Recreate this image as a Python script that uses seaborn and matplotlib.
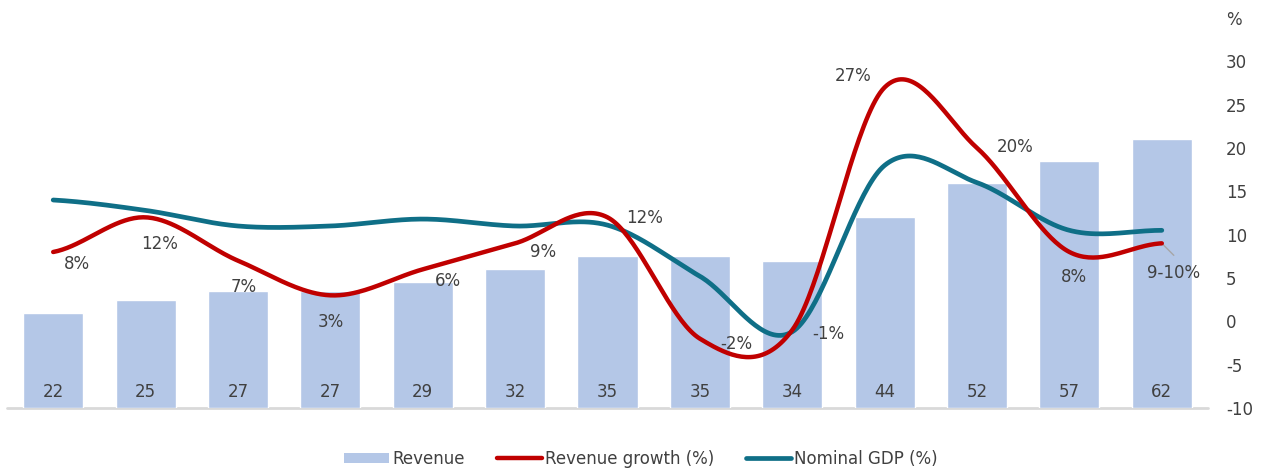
import numpy as np
import matplotlib
matplotlib.use("Agg")
import matplotlib.pyplot as plt
from matplotlib.patches import Patch
from matplotlib.lines import Line2D
import seaborn as sns

# ---- data ----
periods = ["1", "2", "3", "4", "5", "6", "7", "8", "9", "10", "11", "12", "13"]
revenue = [22, 25, 27, 27, 29, 32, 35, 35, 34, 44, 52, 57, 62]
revenue_growth = [8, 12, 7, 3, 6, 9, 12, -2, -1, 27, 20, 8, 9]
growth_labels = ["8%", "12%", "7%", "3%", "6%", "9%", "12%", "-2%", "-1%",
                 "27%", "20%", "8%", "9-10%"]
nominal_gdp = [14, 12.8, 11, 11, 11.8, 11, 11.1, 5.2, -1.2, 18, 16, 10.5, 10.5]
pct_ticks = [-10, -5, 0, 5, 10, 15, 20, 25, 30, 35]
pct_tick_labels = ["-10", "-5", "0", "5", "10", "15", "20", "25", "30", "%"]

# ---- style ----
sns.set_theme(style="white")
plt.rcParams["font.family"] = ["DejaVu Sans"]
TEXT = "#404040"
BAR = "#B4C7E7"
RED = "#C00000"
TEAL = "#0F6F87"
FS = 12


def smooth(values, n=40):
    """Catmull-Rom curve through the given points (x = point index)."""
    p = np.asarray(values, dtype=float)
    ext = np.concatenate([[p[0]], p, [p[-1]]])
    xs, ys = [], []
    for i in range(len(p) - 1):
        p0, p1, p2, p3 = ext[i], ext[i + 1], ext[i + 2], ext[i + 3]
        m1 = (p2 - p0) / 2.0
        m2 = (p3 - p1) / 2.0
        t = np.linspace(0, 1, n, endpoint=(i == len(p) - 2))
        h00 = 2 * t**3 - 3 * t**2 + 1
        h10 = t**3 - 2 * t**2 + t
        h01 = -2 * t**3 + 3 * t**2
        h11 = t**3 - t**2
        xs.append(i + t)
        ys.append(h00 * p1 + h10 * m1 + h01 * p2 + h11 * m2)
    return np.concatenate(xs), np.concatenate(ys)


W, H = 1269, 468
fig = plt.figure(figsize=(W / 100, H / 100), dpi=100)
ax = fig.add_axes([7 / W, (H - 408) / H, (1208 - 7) / W, (408 - 18) / H])

# revenue bars on the (hidden) left scale
sns.barplot(x=periods, y=revenue, color=BAR, width=0.65, saturation=1,
            ax=ax, zorder=2)
ax.set_ylim(0, 90)
ax.set_xlim(-0.5, len(periods) - 0.5)
ax.set_xlabel("")
ax.set_ylabel("")
ax.set_xticks([])
ax.set_yticks([])
for s in ax.spines.values():
    s.set_visible(False)
ax.axhline(0, color="#D9D9D9", lw=2, zorder=1, clip_on=False)

for i, v in enumerate(revenue):
    ax.text(i, 3.6, f"{v}", ha="center", va="center", fontsize=FS,
            color=TEXT, zorder=3)

# percentage lines on the right scale
ax2 = ax.twinx()
ax2.set_ylim(-10, 35)
ax2.set_yticks(pct_ticks)
ax2.set_yticklabels(pct_tick_labels)
ax2.tick_params(axis="y", length=0, pad=13, labelsize=FS, labelcolor=TEXT)
for s in ax2.spines.values():
    s.set_visible(False)
ax2.grid(False)
ax.grid(False)

gx, gy = smooth(nominal_gdp)
rx, ry = smooth(revenue_growth)
sns.lineplot(x=gx, y=gy, color=TEAL, lw=3.4, sort=False, ax=ax2,
             solid_capstyle="round", zorder=4)
sns.lineplot(x=rx, y=ry, color=RED, lw=3.2, sort=False, ax=ax2,
             solid_capstyle="round", zorder=5)

# growth data labels (offsets in pixels from each point)
offsets = [(24, -12), (14, -27), (6, -26), (0, -27), (25, -12), (28, -9),
           (37, -1), (36, -5), (36, -4), (-32, 11), (38, 1), (5, -25),
           (12, -30)]
for i, (lab, v, off) in enumerate(zip(growth_labels, revenue_growth, offsets)):
    ax2.annotate(lab, xy=(i, v), xytext=off, textcoords="offset pixels",
                 ha="center", va="center", fontsize=FS, color=TEXT, zorder=6)
# leader line for the last label
last = len(revenue_growth) - 1
ax2.annotate("", xy=(last, revenue_growth[last]), xytext=(12, -12),
             textcoords="offset pixels",
             arrowprops=dict(arrowstyle="-", color="#A6A6A6", lw=1,
                             shrinkA=0, shrinkB=0))

# legend below the plot
handles = [
    Patch(facecolor=BAR, edgecolor="none"),
    Line2D([0], [0], color=RED, lw=3.2, solid_capstyle="round"),
    Line2D([0], [0], color=TEAL, lw=3.4, solid_capstyle="round"),
]
labels = ["Revenue", "Revenue growth (%)", "Nominal GDP (%)"]
fig.legend(handles, labels, loc="center", ncol=3, frameon=False,
           bbox_to_anchor=(641 / W, 1 - 459 / H), fontsize=12,
           labelcolor=TEXT, handlelength=2.7, handleheight=0.6,
           handletextpad=0.2, columnspacing=1.9)

fig.savefig("out.png", dpi=100)
